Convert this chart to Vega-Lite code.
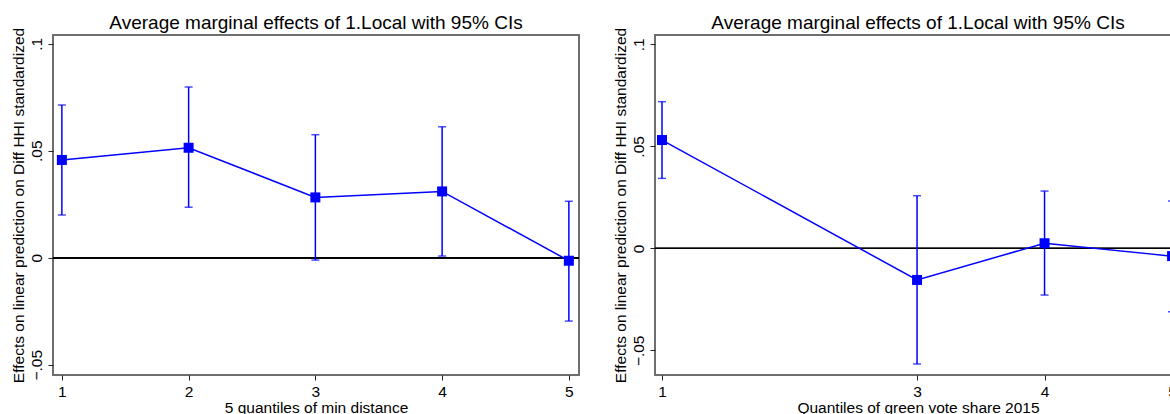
{
  "$schema": "https://vega.github.io/schema/vega-lite/v6.json",
  "background": "white",
  "padding": {"left": 10, "top": 13, "right": 0, "bottom": 0},
  "spacing": 31,
  "config": {
    "font": "Liberation Sans",
    "view": {"stroke": "#6e6e6e", "strokeWidth": 2},
    "axis": {"grid": false, "domain": false, "tickColor": "#222222", "tickSize": 5, "tickWidth": 1, "labelFont": "Liberation Sans", "labelFontSize": 15.5, "labelColor": "#000000", "titleFont": "Liberation Sans", "titleFontSize": 15.5, "titleFontWeight": "normal", "titleColor": "#000000"},
    "title": {"font": "Liberation Sans", "fontSize": 19, "fontWeight": "normal", "color": "#000000", "baseline": "alphabetic", "offset": -6}
  },
  "datasets": {
    "dist": [
      {"q": 1, "est": 0.0457, "lo": 0.0200, "hi": 0.0714},
      {"q": 2, "est": 0.0514, "lo": 0.0236, "hi": 0.0798},
      {"q": 3, "est": 0.0282, "lo": -0.0011, "hi": 0.0575},
      {"q": 4, "est": 0.0310, "lo": 0.0008, "hi": 0.0612},
      {"q": 5, "est": -0.0014, "lo": -0.0296, "hi": 0.0264}
    ],
    "green": [
      {"q": 1, "est": 0.0531, "lo": 0.0343, "hi": 0.0719},
      {"q": 3, "est": -0.0155, "lo": -0.0567, "hi": 0.0258},
      {"q": 4, "est": 0.0025, "lo": -0.0229, "hi": 0.0281},
      {"q": 5, "est": -0.0038, "lo": -0.0311, "hi": 0.0232}
    ]
  },
  "hconcat": [
    {
      "width": 526, "height": 340,
      "title": "Average marginal effects of 1.Local with 95% CIs",
      "data": {"name": "dist"},
      "layer": [
        {"mark": {"type": "rule", "color": "#000000", "strokeWidth": 1.3},
         "encoding": {"y": {"datum": 0, "type": "quantitative", "scale": {"domain": [-0.0548, 0.1041], "nice": false, "zero": false}, "axis": {"values": [-0.05, 0, 0.05, 0.1], "labelExpr": "replace(format(datum.value, '.2~f'), '0.', '.')", "labelAngle": 270, "labelAlign": "center", "labelBaseline": "bottom", "labelPadding": 4, "titlePadding": 3, "title": "Effects on linear prediction on Diff HHI standardized"}}}},
        {"mark": {"type": "rule", "color": "#0000ff", "strokeWidth": 1.5},
         "encoding": {"x": {"field": "q", "type": "quantitative", "scale": {"domain": [0.93, 5.08], "nice": false, "zero": false}, "axis": {"values": [1, 2, 3, 4, 5], "format": "d", "title": "5 quantiles of min distance", "labelPadding": 4, "titlePadding": 1}},
                      "y": {"field": "lo", "type": "quantitative"}, "y2": {"field": "hi"}}},
        {"mark": {"type": "tick", "color": "#0000ff", "orient": "horizontal", "size": 8, "thickness": 1.5},
         "encoding": {"x": {"field": "q", "type": "quantitative"}, "y": {"field": "lo", "type": "quantitative"}}},
        {"mark": {"type": "tick", "color": "#0000ff", "orient": "horizontal", "size": 8, "thickness": 1.5},
         "encoding": {"x": {"field": "q", "type": "quantitative"}, "y": {"field": "hi", "type": "quantitative"}}},
        {"mark": {"type": "line", "color": "#0000ff", "strokeWidth": 1.5},
         "encoding": {"x": {"field": "q", "type": "quantitative"}, "y": {"field": "est", "type": "quantitative"}}},
        {"mark": {"type": "point", "shape": "square", "filled": true, "color": "#0000ff", "size": 100, "opacity": 1},
         "encoding": {"x": {"field": "q", "type": "quantitative"}, "y": {"field": "est", "type": "quantitative"}}}
      ]
    },
    {
      "width": 526, "height": 340,
      "title": "Average marginal effects of 1.Local with 95% CIs",
      "data": {"name": "green"},
      "layer": [
        {"mark": {"type": "rule", "color": "#000000", "strokeWidth": 1.3},
         "encoding": {"y": {"datum": 0, "type": "quantitative", "scale": {"domain": [-0.0621, 0.1046], "nice": false, "zero": false}, "axis": {"values": [-0.05, 0, 0.05, 0.1], "labelExpr": "replace(format(datum.value, '.2~f'), '0.', '.')", "labelAngle": 270, "labelAlign": "center", "labelBaseline": "bottom", "labelPadding": 4, "titlePadding": 3, "title": "Effects on linear prediction on Diff HHI standardized"}}}},
        {"mark": {"type": "rule", "color": "#0000ff", "strokeWidth": 1.5},
         "encoding": {"x": {"field": "q", "type": "quantitative", "scale": {"domain": [0.945, 5.07], "nice": false, "zero": false}, "axis": {"values": [1, 3, 4, 5], "format": "d", "title": "Quantiles of green vote share 2015", "labelPadding": 4, "titlePadding": 1}},
                      "y": {"field": "lo", "type": "quantitative"}, "y2": {"field": "hi"}}},
        {"mark": {"type": "tick", "color": "#0000ff", "orient": "horizontal", "size": 8, "thickness": 1.5},
         "encoding": {"x": {"field": "q", "type": "quantitative"}, "y": {"field": "lo", "type": "quantitative"}}},
        {"mark": {"type": "tick", "color": "#0000ff", "orient": "horizontal", "size": 8, "thickness": 1.5},
         "encoding": {"x": {"field": "q", "type": "quantitative"}, "y": {"field": "hi", "type": "quantitative"}}},
        {"mark": {"type": "line", "color": "#0000ff", "strokeWidth": 1.5},
         "encoding": {"x": {"field": "q", "type": "quantitative"}, "y": {"field": "est", "type": "quantitative"}}},
        {"mark": {"type": "point", "shape": "square", "filled": true, "color": "#0000ff", "size": 100, "opacity": 1},
         "encoding": {"x": {"field": "q", "type": "quantitative"}, "y": {"field": "est", "type": "quantitative"}}}
      ]
    }
  ]
}
